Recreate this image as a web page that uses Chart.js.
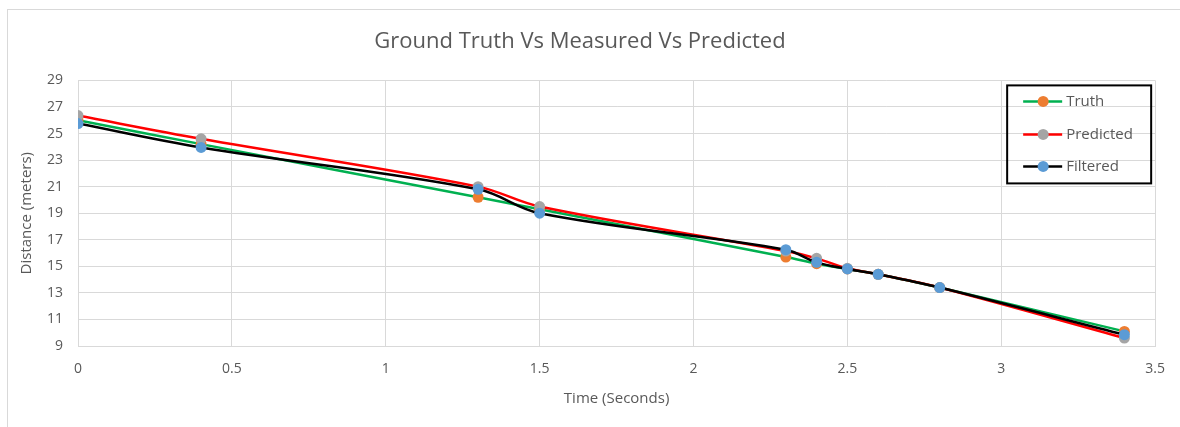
<!DOCTYPE html>
<html>
<head>
<meta charset="utf-8">
<script src="https://cdn.jsdelivr.net/npm/chart.js@4"></script>
<style>
  html, body { margin: 0; padding: 0; background: #fff; }
  #wrap { width: 1180px; height: 427px; position: relative; }
</style>
</head>
<body>
<div id="wrap"><canvas id="chart"></canvas></div>
<script>
// time values (seconds) shared by all series
var times = [0, 0.4, 1.3, 1.5, 2.3, 2.4, 2.5, 2.6, 2.8, 3.4];
var truth = [26.0, 24.2, 20.2, 19.3, 15.7, 15.2, 14.8, 14.4, 13.4, 10.1];
var predicted = [26.35, 24.6, 21.0, 19.5, 16.15, 15.6, 14.85, 14.4, 13.4, 9.6];
var filtered = [25.75, 23.95, 20.8, 19.0, 16.25, 15.3, 14.8, 14.4, 13.4, 9.85];

var seriesNames = ['Truth', 'Predicted', 'Filtered'];
var xTicks = { min: 0, max: 3.5, step: 0.5 };
var yTicks = { min: 9, max: 29, step: 2 };

var FONT = "'Open Sans', sans-serif";
var TEXT = '#595959';
var GRID = '#d9d9d9';

function toPoints(vals) {
    return times.map(function(t, i) { return { x: t, y: vals[i] }; });
}

function series(name, vals, line, marker, order) {
    return {
        label: name,
        data: toPoints(vals),
        borderColor: line,
        backgroundColor: marker,
        pointBackgroundColor: marker,
        pointBorderColor: marker,
        pointRadius: 5.5,
        pointBorderWidth: 0,
        borderWidth: 2.5,
        tension: 0.35,
        order: order
    };
}

// border around the whole chart, like the Excel chart frame
var frame = {
    id: 'frame',
    beforeDraw: function(chart) {
        var ctx = chart.ctx;
        ctx.save();
        ctx.fillStyle = '#fff';
        ctx.fillRect(0, 0, chart.width, chart.height);
        ctx.strokeStyle = GRID;
        ctx.lineWidth = 1;
        ctx.strokeRect(7.5, 9.5, chart.width + 20, chart.height + 20);
        ctx.restore();
    }
};

// legend box sitting inside the plot, top right
var boxLegend = {
    id: 'boxLegend',
    afterDraw: function(chart) {
        var ctx = chart.ctx;
        var area = chart.chartArea;
        var right = area.right - 4;
        var left = right - 144;
        var top = area.top + 5;
        var bottom = top + 98;
        ctx.save();
        ctx.strokeStyle = '#000';
        ctx.lineWidth = 2;
        ctx.strokeRect(left, top, right - left, bottom - top);
        var rows = [top + 16, top + 49, top + 81];
        chart.data.datasets.forEach(function(ds, i) {
            var y = rows[i];
            ctx.strokeStyle = ds.borderColor;
            ctx.lineWidth = 2.5;
            ctx.beginPath();
            ctx.moveTo(left + 16, y);
            ctx.lineTo(left + 55, y);
            ctx.stroke();
            ctx.fillStyle = ds.pointBackgroundColor;
            ctx.beginPath();
            ctx.arc(left + 36, y, 5.5, 0, Math.PI * 2);
            ctx.fill();
            ctx.fillStyle = TEXT;
            ctx.font = '15px ' + FONT;
            ctx.textBaseline = 'middle';
            ctx.textAlign = 'left';
            ctx.fillText(ds.label, left + 59, y);
        });
        ctx.restore();
    }
};

new Chart(document.getElementById('chart'), {
    type: 'line',
    data: {
        datasets: [
            series(seriesNames[0], truth, '#00b050', '#ed7d31', 3),
            series(seriesNames[1], predicted, '#ff0000', '#a5a5a5', 2),
            series(seriesNames[2], filtered, '#000000', '#5b9bd5', 1)
        ]
    },
    options: {
        responsive: true,
        maintainAspectRatio: false,
        animation: false,
        layout: { padding: { left: 0, right: 20, top: 0, bottom: 0 } },
        plugins: {
            legend: { display: false },
            tooltip: { enabled: false },
            title: {
                display: true,
                text: 'Ground Truth Vs Measured Vs Predicted',
                color: TEXT,
                font: { family: FONT, size: 22, weight: 'normal' },
                padding: { top: 29, bottom: 25 }
            }
        },
        scales: {
            x: {
                type: 'linear',
                min: xTicks.min,
                max: xTicks.max,
                ticks: {
                    stepSize: xTicks.step,
                    color: TEXT,
                    padding: 15,
                    font: { family: FONT, size: 14 },
                    callback: function(v) { return String(v); }
                },
                grid: { color: GRID, drawTicks: false },
                border: { color: GRID },
                title: {
                    display: true,
                    text: 'Time (Seconds)',
                    color: TEXT,
                    font: { family: FONT, size: 15 },
                    padding: { top: 0, bottom: 19 }
                },
                afterFit: function(scale) { scale.height = 81; }
            },
            y: {
                min: yTicks.min,
                max: yTicks.max,
                ticks: { stepSize: yTicks.step, color: TEXT, padding: 15, font: { family: FONT, size: 14 } },
                grid: { color: GRID, drawTicks: false },
                border: { color: GRID },
                title: {
                    display: true,
                    text: 'Distance (meters)',
                    color: TEXT,
                    font: { family: FONT, size: 15 },
                    padding: { top: 18, bottom: 0 }
                },
                afterFit: function(scale) { scale.width = 78; }
            }
        }
    },
    plugins: [frame, boxLegend]
});
</script>
</body>
</html>
